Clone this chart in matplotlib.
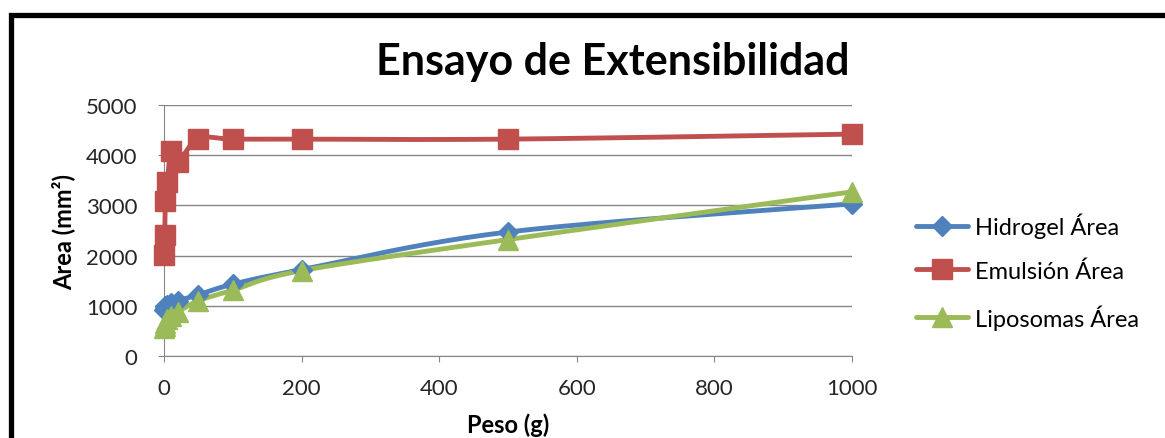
import numpy as np
import matplotlib
matplotlib.use("Agg")
import matplotlib.pyplot as plt
from matplotlib.lines import Line2D
from matplotlib.patches import Rectangle

plt.rcParams['font.family'] = ['Lato', 'DejaVu Sans']

# weight applied (g) and measured spread area (mm2)
peso = [0, 1, 2, 5, 10, 20, 50, 100, 200, 500, 1000]
hidrogel = [920, 960, 990, 1010, 1050, 1100, 1220, 1430, 1720, 2470, 3030]
emulsion = [2020, 2420, 3080, 3460, 4080, 3860, 4330, 4320, 4320, 4320, 4420]
liposomas = [560, 600, 660, 730, 800, 880, 1100, 1310, 1700, 2320, 3270]

series = [
    ("Hidrogel Área", hidrogel, "#4F81BD", "D", 10),
    ("Emulsión Área", emulsion, "#C0504D", "s", 15),
    ("Liposomas Área", liposomas, "#9BBB59", "^", 14),
]


def smooth(x, y, n=25):
    """ bezier smoothing through every point, done in screen-like units """
    sx, sy = 0.688, 0.05
    p = np.column_stack([np.asarray(x) * sx, np.asarray(y) * sy])
    out = []
    for i in range(len(p) - 1):
        p0 = p[max(i - 1, 0)]
        p1 = p[i]
        p2 = p[i + 1]
        p3 = p[min(i + 2, len(p) - 1)]
        c1 = p1 + (p2 - p0) / 6
        c2 = p2 - (p3 - p1) / 6
        t = np.linspace(0, 1, n)[:, None]
        seg = ((1 - t) ** 3 * p1 + 3 * (1 - t) ** 2 * t * c1
               + 3 * (1 - t) * t ** 2 * c2 + t ** 3 * p2)
        out.append(seg if i == 0 else seg[1:])
    out = np.vstack(out)
    return out[:, 0] / sx, out[:, 1] / sy


fig = plt.figure(figsize=(11.65, 4.39), dpi=100)
ax = fig.add_axes([164 / 1165, 1 - 357 / 439, 688 / 1165, 251 / 439])

handles = []
for name, vals, col, mk, ms in series:
    sx_, sy_ = smooth(peso, vals)
    ax.plot(sx_, sy_, color=col, lw=3.5, solid_capstyle="round",
            clip_on=False, zorder=3)
    ax.plot(peso, vals, linestyle="none", marker=mk, markersize=ms,
            color=col, markeredgecolor=col, clip_on=False, zorder=4)
    handles.append(Line2D([], [], color=col, lw=3.5, marker=mk,
                          markersize=ms, markeredgecolor=col,
                          solid_capstyle="round"))

ax.set_xlim(0, 1000)
ax.set_ylim(0, 5000)
ax.set_xticks(np.arange(0, 1001, 200))
ax.set_yticks(np.arange(0, 5001, 1000))
ax.grid(axis="y", color="#868686", lw=1)
ax.set_axisbelow(True)
for s in ["top", "right"]:
    ax.spines[s].set_visible(False)
for s in ["left", "bottom"]:
    ax.spines[s].set_color("#868686")
ax.tick_params(axis="both", colors="#868686", length=4, labelsize=16,
               labelcolor="#262626")
ax.tick_params(axis="x", pad=12)
ax.tick_params(axis="y", pad=15)

ax.set_ylabel("Area (mm²)", fontsize=17, fontweight="bold", labelpad=8)
ax.set_xlabel("Peso (g)", fontsize=17, fontweight="bold", labelpad=10)

fig.text(613 / 1165, 1 - 62 / 439, "Ensayo de Extensibilidad",
         fontsize=31, fontweight="bold", ha="center", va="center")

fig.legend(handles, [s[0] for s in series], loc="center left",
           bbox_to_anchor=(916 / 1165, 1 - 272 / 439), frameon=False,
           fontsize=17, handlelength=2.2, handletextpad=0.3,
           labelspacing=0.95, borderpad=0, borderaxespad=0)

# chart area border, runs off the right and bottom edges
fig.patches.append(Rectangle((10.5 / 1165, -0.2), 1.5, 1.2 - 15.5 / 439,
                             transform=fig.transFigure, fill=False,
                             edgecolor="black", lw=3.8))

plt.savefig("out.png")
